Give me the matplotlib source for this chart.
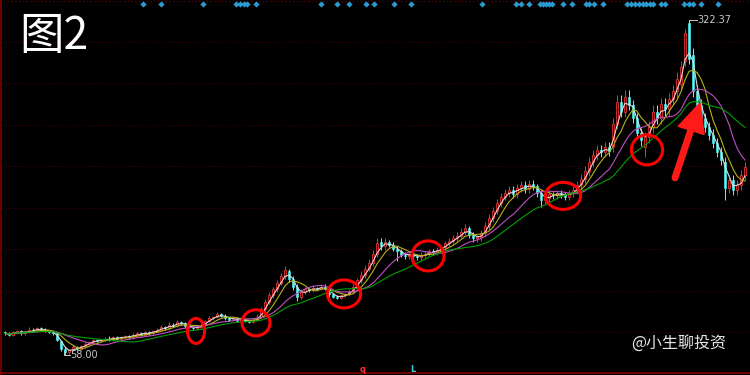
import numpy as np
import pandas as pd
import matplotlib
matplotlib.use("Agg")
import matplotlib.pyplot as plt
from matplotlib.patches import Ellipse, Polygon

plt.rcParams['font.family'] = ['Noto Sans CJK SC', 'DejaVu Sans']

# ===========================
# Daten
# ===========================

close = [
    75, 74, 76, 77, 75, 76, 78, 77, 79, 78,
    77, 76, 75, 70, 63, 60, 62, 64, 63, 65,
    67, 68, 70, 69, 70, 71, 70, 72, 71, 72,
    73, 72, 74, 75, 74, 76, 75, 77, 78, 80,
    79, 82, 81, 84, 83, 81, 80, 79, 80, 82,
    85, 87, 88, 90, 89, 87, 86, 87, 85, 86,
    85, 84, 86, 88, 94, 100, 105, 110, 115, 120,
    125, 118, 112, 104, 108, 110, 109, 111, 110, 112,
    110, 106, 104, 103, 105, 106, 108, 112, 117, 121,
    126, 131, 138, 146, 144, 147, 145, 142, 140, 137,
    136, 138, 136, 135, 137, 138, 140, 139, 141, 143,
    146, 148, 150, 152, 155, 158, 153, 150, 151, 154,
    160, 166, 172, 178, 183, 186, 188, 185, 190, 192,
    189, 193, 191, 186, 180, 182, 185, 184, 186, 185,
    183, 186, 188, 192, 197, 203, 210, 216, 220, 218,
    222, 219, 240, 258, 250, 262, 255, 245, 233, 228,
    230, 238, 250, 245, 256, 252, 260, 266, 276, 285,
    312, 292, 266, 255, 245, 238, 232, 225, 218, 212,
    190, 196, 188, 192, 200, 206]

open_ = [
    76, 75, 74, 76, 77, 75, 76, 78, 77, 79,
    78, 77, 76, 75, 69, 63, 60, 62, 64, 63,
    65, 67, 68, 70, 69, 70, 71, 70, 72, 71,
    72, 73, 72, 74, 75, 74, 76, 75, 77, 78,
    80, 79, 82, 81, 84, 83, 81, 80, 79, 80,
    82, 85, 87, 88, 90, 89, 87, 86, 87, 85,
    86, 85, 84, 86, 88, 94, 100, 105, 110, 115,
    120, 124, 118, 112, 104, 108, 110, 109, 111, 110,
    112, 110, 106, 104, 103, 105, 106, 108, 112, 117,
    121, 126, 131, 138, 147, 144, 147, 145, 142, 140,
    137, 136, 138, 136, 135, 137, 138, 140, 139, 141,
    143, 146, 148, 150, 152, 155, 158, 153, 150, 151,
    154, 160, 166, 172, 178, 183, 186, 188, 185, 190,
    192, 189, 193, 191, 186, 180, 182, 185, 184, 186,
    185, 183, 186, 188, 192, 197, 203, 210, 216, 220,
    218, 222, 222, 240, 258, 250, 262, 255, 245, 233,
    222, 230, 238, 250, 245, 256, 252, 260, 266, 272,
    290, 320, 295, 266, 255, 245, 238, 232, 225, 218,
    210, 190, 196, 188, 192, 200]

# horní a dolní stíny svíček
upper = [
    1, 1, 1, 1, 1, 1, 2, 1, 1, 1,
    1, 1, 1, 1, 1, 1, 1, 2, 1, 1,
    1, 1, 1, 1, 1, 1, 2, 1, 1, 1,
    1, 1, 1, 1, 1, 1, 1, 1, 1, 2,
    1, 2, 1, 2, 1, 1, 1, 1, 1, 2,
    1, 2, 1, 2, 1, 1, 1, 1, 1, 1,
    1, 1, 1, 2, 2, 2, 3, 2, 2, 3,
    3, 2, 2, 2, 2, 2, 1, 2, 1, 2,
    2, 1, 1, 1, 1, 1, 2, 2, 2, 3,
    3, 3, 3, 4, 3, 3, 2, 2, 2, 2,
    2, 2, 2, 2, 2, 2, 2, 2, 2, 2,
    2, 2, 3, 3, 3, 3, 2, 2, 2, 3,
    3, 3, 3, 3, 3, 3, 3, 3, 3, 3,
    3, 3, 3, 2, 2, 2, 2, 2, 2, 2,
    2, 2, 3, 3, 4, 4, 4, 4, 4, 4,
    4, 4, 5, 5, 5, 5, 5, 4, 4, 4,
    4, 5, 5, 5, 5, 5, 5, 5, 5, 5,
    3, 2.37, 5, 5, 5, 4, 4, 4, 4, 4,
    4, 4, 4, 4, 4, 4]

lower = [
    1, 1, 1, 1, 1, 1, 1, 1, 1, 1,
    1, 1, 1, 1, 2, 2, 1, 1, 1, 1,
    1, 1, 1, 1, 1, 1, 1, 1, 1, 1,
    1, 1, 1, 1, 1, 1, 1, 1, 1, 1,
    1, 1, 1, 1, 1, 2, 1, 1, 1, 1,
    1, 1, 1, 1, 1, 1, 1, 1, 1, 1,
    1, 1, 1, 1, 1, 2, 2, 2, 2, 2,
    2, 2, 3, 3, 2, 2, 1, 1, 1, 1,
    1, 2, 1, 1, 1, 1, 1, 2, 2, 2,
    2, 2, 3, 3, 3, 3, 2, 2, 8, 2,
    2, 2, 2, 2, 2, 2, 2, 2, 2, 2,
    2, 2, 2, 2, 2, 2, 3, 3, 3, 3,
    3, 3, 3, 3, 3, 3, 3, 3, 3, 3,
    3, 3, 3, 3, 5, 3, 3, 3, 3, 3,
    3, 3, 3, 3, 3, 3, 4, 4, 4, 4,
    4, 4, 4, 4, 4, 4, 4, 4, 4, 5,
    8, 5, 5, 5, 5, 5, 5, 5, 5, 5,
    4, 4, 4, 4, 4, 4, 4, 4, 4, 4,
    10, 4, 4, 4, 4, 4]

# klouzavé průměry (periody) a jejich barvy
ma_periods = [3, 6, 12, 20]
ma_colors = ["#dcdcdc", "#b4b414", "#c050c0", "#00a000"]

# signály nahoře (pozice svíček)
signals = [34.5, 39, 49.5, 57.75, 58.75, 59.75, 60.5, 62.75, 79, 83, 86,
           90.25, 92.25, 97.25, 101.5, 119.25, 127.75, 129, 131, 133.75,
           134.5, 135.25, 136, 136.75, 139.5, 141.75, 145.25, 146, 147.25,
           149.5, 155.5, 156.5, 157.5, 158.5, 159.5, 160.25, 161.25, 162,
           164, 165, 169.75, 171, 172, 174, 178.25]

# červené kroužky (střed x, střed y, šířka, výška)
circles = [(47.75, 77.0, 4.3, 19.7), (62.75, 83.4, 7.0, 20.5),
           (84.75, 106.2, 8.3, 22.1), (105.75, 136.2, 8.0, 23.7),
           (139.5, 183.6, 8.8, 21.3), (160.5, 219.9, 7.8, 23.7)]

grid_levels = [76, 108.5, 141.5, 174, 207, 239.5, 272.5, 305]

# ===========================
# Vykreslení
# ===========================

o = np.array(open_, dtype=float)
c = np.array(close, dtype=float)
hi = np.maximum(o, c) + np.array(upper)
lo = np.minimum(o, c) - np.array(lower)
idx = np.arange(len(c))

fig = plt.figure(figsize=(7.5, 3.75), dpi=100, facecolor="black")
ax = fig.add_axes([0, 0, 1, 1])
ax.set_facecolor("black")
ax.set_xlim(-1.25, 186.25)
ax.set_ylim(42.2, 338.2)
for s in ax.spines.values():
    s.set_visible(False)
ax.set_xticks([])
ax.set_yticks([])

# mřížka a rámeček
for g in grid_levels:
    ax.axhline(g, color="#5a0000", lw=0.6, ls=(0, (1, 2)), zorder=0)
ax.plot([0.0015, 0.0015], [0, 1], transform=ax.transAxes, color="#800000", lw=1.2)
ax.plot([0, 1], [0.005, 0.005], transform=ax.transAxes, color="#800000", lw=1.2)
ax.plot([0, 1], [0.997, 0.997], transform=ax.transAxes, color="#600000", lw=0.9, ls=(0, (1, 2)))

# svíčky
up = c >= o
red = "#e83232"
cyan = "#54fcfc"
ax.vlines(idx[up], lo[up], hi[up], color=red, lw=0.7, zorder=2)
ax.vlines(idx[~up], lo[~up], hi[~up], color=cyan, lw=0.7, zorder=2)
body = np.maximum(np.abs(c - o), 0.4)
ax.bar(idx[up], body[up], bottom=np.minimum(o, c)[up], width=0.65,
       facecolor="#300000", edgecolor=red, lw=0.6, zorder=3)
ax.bar(idx[~up], body[~up], bottom=np.minimum(o, c)[~up], width=0.65,
       facecolor=cyan, edgecolor=cyan, lw=0.4, zorder=3)

# klouzavé průměry
cs = pd.Series(c)
for p, col in zip(ma_periods, ma_colors):
    ax.plot(idx, cs.rolling(p, min_periods=1).mean(), color=col, lw=0.8, zorder=4)

# signály nahoře
ax.plot(signals, [335] * len(signals), "D", color="#2a9ad0", ms=3.2, mec="none", zorder=5)

# maximum a minimum
imax = int(np.argmax(hi))
imin = int(np.argmin(lo))
ax.plot([imax, imax + 2], [hi[imax], hi[imax]], color="#c8c8c8", lw=0.7)
ax.text(imax + 2.2, hi[imax], f"{hi[imax]:.2f}", color="#c8c8c8", fontsize=7,
        va="center", ha="left", family="DejaVu Sans")
ax.plot([imin - 0.3, imin - 0.3, imin + 1.2], [lo[imin] + 3, lo[imin], lo[imin]],
        color="#c8c8c8", lw=0.7)
ax.text(imin + 1.3, lo[imin], f"{lo[imin]:.2f}", color="#c8c8c8", fontsize=7,
        va="center", ha="left", family="DejaVu Sans")

# červené kroužky
for cx, cy, w, h in circles:
    ax.add_patch(Ellipse((cx, cy), w, h, fill=False, edgecolor="#ff0000", lw=2.2, zorder=6))

# šipka
ax.plot([167.5, 171.5], [197.8, 236.0], color="#ff1a1a", lw=5, solid_capstyle="round", zorder=6)
ax.add_patch(Polygon([(173.75, 256.9), (168.3, 238.5), (174.8, 232.0)],
                     closed=True, color="#ff1a1a", zorder=6))

# texty
fig.text(19 / 750, 1 - 36 / 375, "图2", color="white", fontsize=32, va="center", ha="left")
fig.text(631 / 750, 1 - 343 / 375, "@小生聊投资", color="#e6e6e6", fontsize=11.5,
         va="center", ha="left")
fig.text(363 / 750, 1 - 369 / 375, "q", color="#ff3030", fontsize=6, va="center",
         ha="center", family="DejaVu Sans", weight="bold")
fig.text(413 / 750, 1 - 369 / 375, "L", color="#30d0e0", fontsize=6, va="center",
         ha="center", family="DejaVu Sans", weight="bold")

fig.savefig("out.png", dpi=100, facecolor="black")
